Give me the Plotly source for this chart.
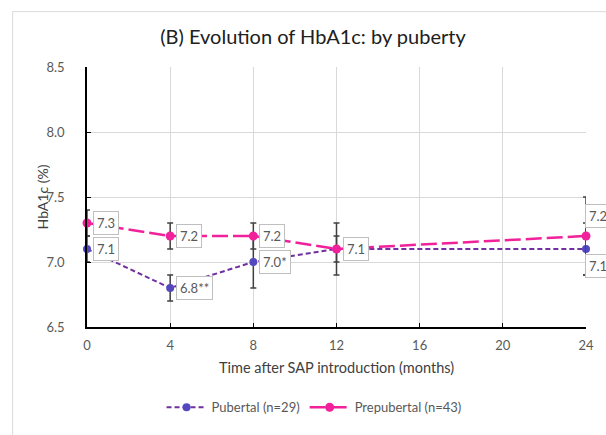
import plotly.graph_objects as go

months = [0, 4, 8, 12, 24]
pubertal = [7.1, 6.8, 7.0, 7.1, 7.1]
pubertal_err = [0.1, 0.1, 0.2, 0.2, 0.2]
pubertal_labels = ["7.1", "6.8**", "7.0*", "", "7.1"]
prepubertal = [7.3, 7.2, 7.2, 7.1, 7.2]
prepubertal_err = [0.1, 0.1, 0.1, 0.1, 0.3]
prepubertal_labels = ["7.3", "7.2", "7.2", "7.1", "7.2"]
x_ticks = [0, 4, 8, 12, 16, 20, 24]
y_ticks = [6.5, 7.0, 7.5, 8.0, 8.5]

FONT = "Lato"
PUB_LINE = "#7030A0"
PUB_MARK = "#5448C0"
PRE = "#F0219A"
ERR = "#404040"

fig = go.Figure()
fig.add_trace(go.Scatter(
    x=months, y=pubertal, name="Pubertal (n=29)", mode="lines+markers",
    line=dict(color=PUB_LINE, width=2, dash="5px,3px"),
    marker=dict(color=PUB_MARK, size=8),
    error_y=dict(type="data", array=pubertal_err, color=ERR, thickness=1.5, width=3),
    cliponaxis=False,
))
fig.add_trace(go.Scatter(
    x=months, y=prepubertal, name="Prepubertal (n=43)", mode="lines+markers",
    line=dict(color=PRE, width=2.5, dash="16px,5px"),
    marker=dict(color=PRE, size=9),
    error_y=dict(type="data", array=prepubertal_err, color=ERR, thickness=1.5, width=3),
    cliponaxis=False,
))

annotations = []
def label(x, y, t, yshift=0, xshift=6):
    annotations.append(dict(
        x=x, y=y, xref="x", yref="y", text=t, showarrow=False,
        xanchor="left", yanchor="middle", xshift=xshift, yshift=yshift,
        font=dict(family=FONT, size=13, color="#595959"),
        bgcolor="white", bordercolor="#BFBFBF", borderwidth=1, borderpad=3,
    ))

for x, y, t in zip(months, pubertal, pubertal_labels):
    if not t:
        continue
    if x == months[-1]:
        label(x, y, t, yshift=-17, xshift=-1)
    else:
        label(x, y, t)
for x, y, t in zip(months, prepubertal, prepubertal_labels):
    if x == months[-1]:
        label(x, y, t, yshift=20, xshift=-1)
    else:
        label(x, y, t)

annotations.append(dict(
    x=0.4995, y=-0.155, xref="paper", yref="paper", showarrow=False,
    text="Time after SAP introduction (months)", xanchor="center", yanchor="middle",
    font=dict(family=FONT, size=14.5, color="#404040"),
))
annotations.append(dict(
    x=-0.0894, y=0.5, xref="paper", yref="paper", showarrow=False,
    text="HbA1c (%)", textangle=-90, xanchor="center", yanchor="middle",
    font=dict(family=FONT, size=14, color="#404040"),
))

fig.update_layout(
    width=606, height=435,
    margin=dict(l=87, r=15.5, t=66.7, b=100),
    paper_bgcolor="white", plot_bgcolor="white",
    font=dict(family=FONT, color="#595959"),
    title=dict(text="(B) Evolution of HbA1c: by puberty", x=0.5165, xanchor="center",
               y=1 - 37 / 435, yanchor="middle", xref="container", yref="container",
               font=dict(family=FONT, size=20, color="#202020")),
    showlegend=True,
    legend=dict(orientation="h", x=0.455, xanchor="center", y=-0.309, yanchor="middle",
                font=dict(family=FONT, size=13, color="#595959"), bgcolor="rgba(0,0,0,0)",
                itemwidth=40),
    annotations=annotations,
    shapes=[dict(type="rect", xref="paper", yref="paper", x0=-0.149, x1=1.2,
                 y0=-0.6, y1=1.213, line=dict(color="#D9D9D9", width=1),
                 fillcolor="rgba(0,0,0,0)", layer="below")],
)
fig.update_xaxes(
    range=[0, 24], tickmode="array", tickvals=x_ticks,
    showgrid=True, gridcolor="#D9D9D9", gridwidth=1,
    showline=True, linecolor="#000000", linewidth=1.5,
    ticks="inside", ticklen=4, tickcolor="#000000",
    tickfont=dict(family=FONT, size=13, color="#595959"),
    ticklabelstandoff=6, zeroline=False,
)
fig.update_yaxes(
    range=[6.5, 8.5], tickmode="array", tickvals=y_ticks,
    ticktext=[f"{v:.1f}" for v in y_ticks],
    showgrid=True, gridcolor="#D9D9D9", gridwidth=1,
    showline=True, linecolor="#000000", linewidth=1.5,
    ticks="inside", ticklen=4, tickcolor="#000000",
    tickfont=dict(family=FONT, size=13, color="#595959"),
    ticklabelstandoff=18, zeroline=False,
)

fig.write_html("out.html", config={"displayModeBar": False},
               post_script="document.body.style.margin='0';document.body.style.overflow='hidden';")
